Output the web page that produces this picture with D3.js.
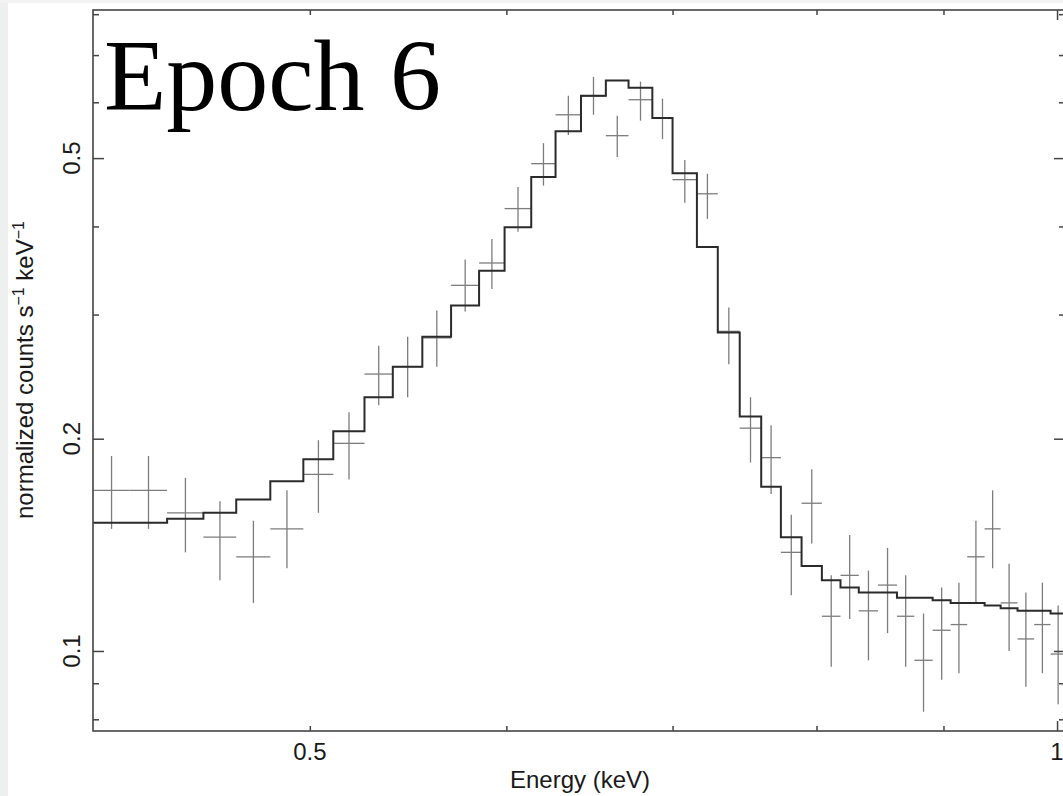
<!DOCTYPE html>
<html>
<head>
<meta charset="utf-8">
<script src="https://cdnjs.cloudflare.com/ajax/libs/d3/7.8.5/d3.min.js"></script>
<style>
  body { margin: 0; background: #fff; }
  svg { display: block; }
</style>
</head>
<body>
<div id="div_spec"></div>
<script>
// energy bin edges (keV)
var binEdges = [0.409, 0.423, 0.438, 0.453, 0.467, 0.482, 0.497, 0.511, 0.526, 0.540,
                0.555, 0.570, 0.585, 0.599, 0.614, 0.628, 0.643, 0.658, 0.672, 0.687,
                0.700, 0.716, 0.730, 0.745, 0.760, 0.774, 0.789, 0.804, 0.818, 0.832,
                0.847, 0.862, 0.876, 0.891, 0.906, 0.920, 0.935, 0.949, 0.964, 0.979,
                0.994, 1.008];

// data points (normalized counts s^-1 keV^-1)
var counts = [0.169, 0.169, 0.157, 0.145, 0.136, 0.149, 0.178, 0.197, 0.247, 0.253,
              0.278, 0.330, 0.355, 0.424, 0.491, 0.576, 0.612, 0.538, 0.605, 0.570,
              0.466, 0.445, 0.284, 0.207, 0.188, 0.138, 0.162, 0.112, 0.128, 0.114,
              0.124, 0.112, 0.097, 0.107, 0.109, 0.136, 0.149, 0.117, 0.104, 0.109,
              0.099];
var countsHi = [0.189, 0.189, 0.176, 0.163, 0.153, 0.169, 0.199, 0.218, 0.271, 0.279,
                0.304, 0.359, 0.384, 0.455, 0.525, 0.613, 0.652, 0.574, 0.642, 0.607,
                0.497, 0.475, 0.307, 0.229, 0.209, 0.156, 0.181, 0.128, 0.146, 0.130,
                0.140, 0.128, 0.113, 0.123, 0.125, 0.153, 0.169, 0.133, 0.121, 0.125,
                0.116];
var countsLo = [0.149, 0.149, 0.138, 0.126, 0.117, 0.131, 0.157, 0.175, 0.223, 0.229,
                0.253, 0.303, 0.326, 0.393, 0.457, 0.539, 0.576, 0.502, 0.565, 0.532,
                0.432, 0.410, 0.255, 0.185, 0.167, 0.120, 0.142, 0.095, 0.111, 0.097,
                0.106, 0.095, 0.082, 0.091, 0.093, 0.117, 0.131, 0.100, 0.089, 0.093,
                0.084];

// folded model, one value per bin
var model = [0.152, 0.152, 0.154, 0.157, 0.164, 0.174, 0.187, 0.205, 0.229, 0.253,
             0.279, 0.309, 0.346, 0.399, 0.470, 0.546, 0.613, 0.644, 0.629, 0.570,
             0.476, 0.374, 0.283, 0.215, 0.171, 0.145, 0.132, 0.126, 0.123, 0.121,
             0.121, 0.119, 0.119, 0.118, 0.117, 0.117, 0.116, 0.115, 0.114, 0.114,
             0.113];

var xMajor = [0.5, 1];
var xMinor = [0.6, 0.7, 0.8, 0.9];
var yMajor = [0.1, 0.2, 0.5];
var yMinor = [0.08, 0.09, 0.3, 0.4, 0.6, 0.7, 0.8];

//Width and height
var w = 1063;
var h = 796;
var pLeft = 93, pRight = 1065, pTop = 10, pBottom = 731;

var x = d3.scaleLog().domain([0.4089, 1.0074]).range([pLeft, pRight]);
var y = d3.scaleLog().domain([0.0770, 0.811]).range([pBottom, pTop]);

var svg = d3.select("#div_spec")
            .append("svg")
            .attr("width", w)
            .attr("height", h);

// light grey page strips at the left and top
svg.append("rect").attr("x", 0).attr("y", 0).attr("width", 8).attr("height", h).style("fill", "#eef0f0");
svg.append("rect").attr("x", 0).attr("y", 0).attr("width", w).attr("height", 3).style("fill", "#f3f3f3");

svg.append("clipPath").attr("id", "clip")
   .append("rect")
   .attr("x", pLeft).attr("y", pTop)
   .attr("width", pRight - pLeft).attr("height", pBottom - pTop);

var plot = svg.append("g").attr("clip-path", "url(#clip)");

var bins = counts.map(function(d, i) {
    return {
        lo: binEdges[i],
        hi: binEdges[i + 1],
        mid: (binEdges[i] + binEdges[i + 1]) / 2,
        v: d,
        vHi: countsHi[i],
        vLo: countsLo[i],
        m: model[i]
    };
});

//Data crosses
var crosses = plot.append("g")
                  .style("stroke", "#7d7d7d")
                  .style("stroke-width", 1.3);

crosses.selectAll("line.hz")
       .data(bins)
       .enter()
       .append("line")
       .attr("class", "hz")
       .attr("x1", function(d) { return x(d.lo); })
       .attr("x2", function(d) { return x(d.hi); })
       .attr("y1", function(d) { return y(d.v); })
       .attr("y2", function(d) { return y(d.v); });

crosses.selectAll("line.vt")
       .data(bins)
       .enter()
       .append("line")
       .attr("class", "vt")
       .attr("x1", function(d) { return x(d.mid); })
       .attr("x2", function(d) { return x(d.mid); })
       .attr("y1", function(d) { return y(d.vHi); })
       .attr("y2", function(d) { return y(d.vLo); });

//Model as step histogram
var steps = bins.map(function(d) { return [d.lo, d.m]; });
steps.push([bins[bins.length - 1].hi, bins[bins.length - 1].m]);

var stepLine = d3.line()
                 .x(function(d) { return x(d[0]); })
                 .y(function(d) { return y(d[1]); })
                 .curve(d3.curveStepAfter);

plot.append("path")
    .datum(steps)
    .attr("d", stepLine)
    .style("fill", "none")
    .style("stroke", "#2b2b2b")
    .style("stroke-width", 2);

//Axes: ticks point inward on all four sides
function styleAxis(g) {
  g.select(".domain").remove();
  g.selectAll(".tick line").style("stroke", "#444").style("stroke-width", 1.5);
}

svg.append("g").attr("transform", "translate(0," + pBottom + ")")
   .call(d3.axisBottom(x).tickValues(xMinor.concat([0.5])).tickSize(-5).tickFormat(""))
   .call(styleAxis);
svg.append("g").attr("transform", "translate(0," + pBottom + ")")
   .call(d3.axisBottom(x).tickValues([1]).tickSize(-10).tickFormat(""))
   .call(styleAxis);
svg.append("g").attr("transform", "translate(0," + pTop + ")")
   .call(d3.axisTop(x).tickValues(xMinor.concat([0.5])).tickSize(-5).tickFormat(""))
   .call(styleAxis);
svg.append("g").attr("transform", "translate(0," + pTop + ")")
   .call(d3.axisTop(x).tickValues([1]).tickSize(-10).tickFormat(""))
   .call(styleAxis);

svg.append("g").attr("transform", "translate(" + pLeft + ",0)")
   .call(d3.axisLeft(y).tickValues(yMinor).tickSize(-6).tickFormat(""))
   .call(styleAxis);
svg.append("g").attr("transform", "translate(" + pLeft + ",0)")
   .call(d3.axisLeft(y).tickValues(yMajor).tickSize(-11).tickFormat(""))
   .call(styleAxis);
svg.append("g").attr("transform", "translate(" + pRight + ",0)")
   .call(d3.axisRight(y).tickValues(yMinor).tickSize(-6).tickFormat(""))
   .call(styleAxis);
svg.append("g").attr("transform", "translate(" + pRight + ",0)")
   .call(d3.axisRight(y).tickValues(yMajor).tickSize(-11).tickFormat(""))
   .call(styleAxis);

//Frame
svg.append("rect")
   .attr("x", pLeft).attr("y", pTop)
   .attr("width", pRight - pLeft).attr("height", pBottom - pTop)
   .style("fill", "none")
   .style("stroke", "#444")
   .style("stroke-width", 1.6);

//Tick labels
var labelFont = "'Liberation Sans', Arial, Helvetica, sans-serif";

svg.append("g").selectAll("text")
   .data(xMajor)
   .enter()
   .append("text")
   .attr("x", function(d) { return x(d); })
   .attr("y", 760)
   .attr("text-anchor", "middle")
   .style("font-family", labelFont)
   .style("font-size", "24px")
   .style("fill", "#1a1a1a")
   .text(function(d) { return d; });

svg.append("g").selectAll("text")
   .data(yMajor)
   .enter()
   .append("text")
   .attr("transform", function(d) { return "translate(80," + y(d) + ") rotate(-90)"; })
   .attr("text-anchor", "middle")
   .style("font-family", labelFont)
   .style("font-size", "24px")
   .style("fill", "#1a1a1a")
   .text(function(d) { return d; });

//Axis titles
svg.append("text")
   .attr("x", 580)
   .attr("y", 788)
   .attr("text-anchor", "middle")
   .style("font-family", labelFont)
   .style("font-size", "24px")
   .style("fill", "#1a1a1a")
   .text("Energy (keV)");

var yTitle = svg.append("text")
   .attr("transform", "translate(33,370) rotate(-90)")
   .attr("text-anchor", "middle")
   .style("font-family", labelFont)
   .style("font-size", "24px")
   .style("fill", "#1a1a1a");
yTitle.append("tspan").text("normalized counts s");
yTitle.append("tspan").attr("dy", -9).style("font-size", "16px").text("\u22121");
yTitle.append("tspan").attr("dy", 9).text(" keV");
yTitle.append("tspan").attr("dy", -9).style("font-size", "16px").text("\u22121");

//Epoch label
svg.append("text")
   .attr("x", 104)
   .attr("y", 110)
   .style("font-family", "'Liberation Serif', 'DejaVu Serif', Georgia, serif")
   .style("font-size", "102px")
   .style("fill", "#000")
   .text("Epoch 6");
</script>
</body>
</html>
